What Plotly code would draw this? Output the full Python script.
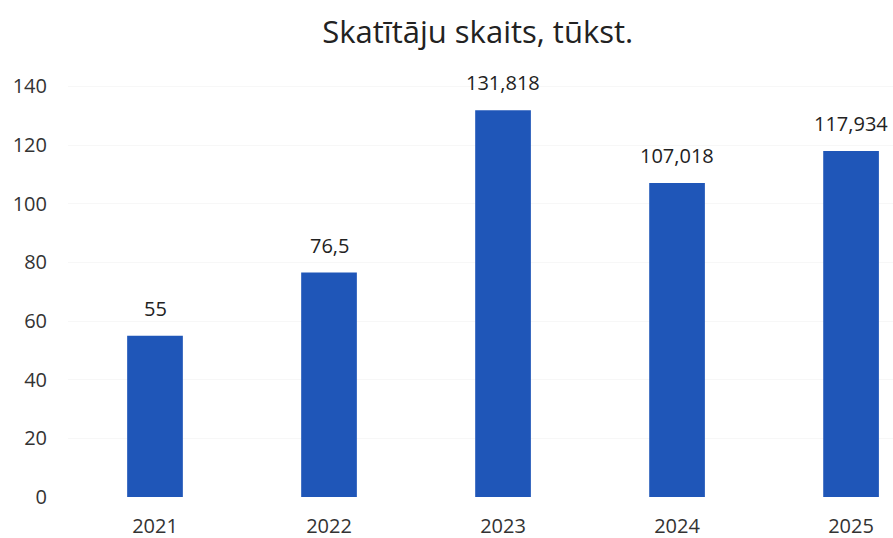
import plotly.graph_objects as go

years = ["2021", "2022", "2023", "2024", "2025"]
viewers = [55, 76.5, 131.818, 107.018, 117.934]
y_ticks = [0, 20, 40, 60, 80, 100, 120, 140]

labels = [str(v).replace(".", ",") for v in viewers]

fig = go.Figure()
fig.add_trace(go.Bar(
    x=years, y=viewers,
    marker=dict(color="#1f56b8", line=dict(width=0)),
    hoverinfo="skip",
))

for i, (v, t) in enumerate(zip(viewers, labels)):
    fig.add_annotation(x=i, y=v, xref="x", yref="y", text=t, showarrow=False, yanchor="bottom",
                       yshift=12, font=dict(size=20, color="#222222", family="Open Sans"))

fig.update_layout(
    width=893, height=538,
    margin=dict(l=68, r=0, t=57, b=41),
    paper_bgcolor="white", plot_bgcolor="white",
    bargap=0.68,
    showlegend=False,
    title=dict(text="Skatītāju skaits, tūkst.", x=0.535, xanchor="center", y=0.94, yanchor="middle",
               font=dict(size=31, color="#222222", family="Open Sans")),
    font=dict(family="Open Sans", size=20, color="#333333"),
)
fig.update_xaxes(type="category", range=[-0.5, 4.241], showline=False, ticks="", automargin=False,
                 tickfont=dict(size=20, color="#333333"), ticklabelstandoff=15)
fig.update_yaxes(range=[0, 150], tickvals=y_ticks, showgrid=True, gridcolor="#f7f7f7", automargin=False,
                 zeroline=False, showline=False, ticks="",
                 tickfont=dict(size=20, color="#333333"), ticklabelstandoff=20)

fig.write_html(
    "out.html",
    config={"displayModeBar": False},
    post_script="document.body.style.margin='0';document.body.style.overflow='hidden';",
)
